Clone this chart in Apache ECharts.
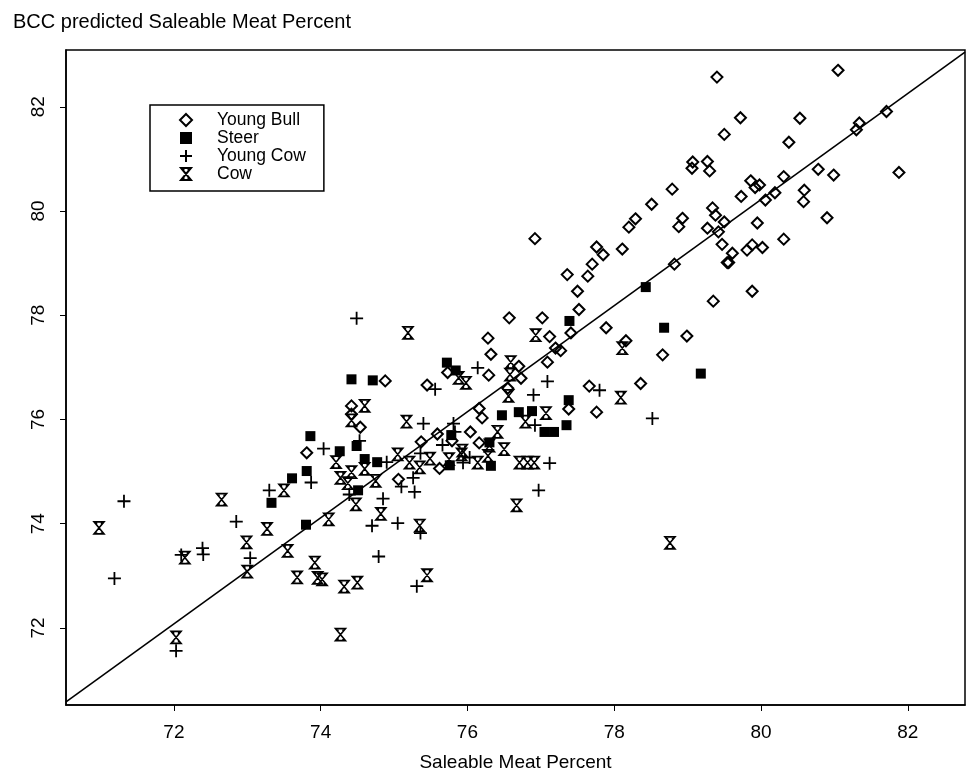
<!DOCTYPE html>
<html>
<head>
<meta charset="utf-8">
<script src="https://cdn.jsdelivr.net/npm/echarts@6/dist/echarts.min.js"></script>
<style>
  html, body { margin: 0; padding: 0; background: #fff; }
  #main { width: 971px; height: 772px; }
</style>
</head>
<body>
<div id="main"></div>
<script>
// values: [saleable meat %, BCC predicted %]
const youngBull = [
  [74.88, 76.74], [75.45, 76.66], [74.42, 76.26], [74.42, 76.10], [74.54, 75.85],
  [73.81, 75.36], [75.06, 74.85], [75.37, 75.57], [75.59, 75.72], [75.79, 75.59],
  [76.04, 75.76], [76.20, 76.03], [76.16, 75.55], [75.73, 76.90], [76.28, 77.56],
  [76.32, 77.25], [76.29, 76.85], [75.62, 75.06], [76.16, 76.21], [76.57, 77.95],
  [77.02, 77.95], [77.52, 78.11], [77.89, 77.76], [78.16, 77.51], [78.66, 77.24],
  [77.12, 77.59], [77.41, 77.66], [77.20, 77.37], [77.27, 77.32], [76.70, 77.02],
  [77.09, 77.10], [76.73, 76.79], [77.66, 76.64], [78.36, 76.69], [77.38, 76.20],
  [77.76, 76.14], [76.55, 76.60], [76.92, 79.47], [77.50, 78.46], [77.36, 78.78],
  [77.64, 78.75], [77.70, 78.98], [77.76, 79.31], [77.85, 79.16], [78.11, 79.27],
  [78.20, 79.69], [78.29, 79.85], [78.51, 80.13], [78.79, 80.42], [79.06, 80.82],
  [79.30, 80.77], [78.93, 79.86], [78.88, 79.70], [78.82, 78.98], [79.34, 80.06],
  [79.38, 79.92], [79.50, 79.79], [79.27, 79.67], [79.42, 79.60], [79.47, 79.36],
  [79.54, 79.01], [79.35, 78.27], [79.40, 82.57], [81.05, 82.70], [79.72, 81.79],
  [80.53, 81.78], [79.50, 81.47], [80.38, 81.32], [81.71, 81.91], [81.34, 81.69],
  [81.30, 81.56], [81.88, 80.74], [80.78, 80.80], [80.99, 80.69], [79.07, 80.94],
  [79.27, 80.95], [79.73, 80.28], [79.86, 80.58], [79.92, 80.45], [79.98, 80.50],
  [80.06, 80.21], [80.19, 80.35], [80.31, 80.66], [80.59, 80.40], [80.58, 80.18],
  [80.90, 79.87], [80.31, 79.46], [79.95, 79.77], [80.02, 79.30], [79.88, 79.35],
  [79.81, 79.25], [79.61, 79.19], [79.56, 79.01], [79.88, 78.46], [78.99, 77.60]
];
const steer = [
  [74.42, 76.77], [74.71, 76.75], [73.86, 75.68], [74.26, 75.39], [74.49, 75.49],
  [74.60, 75.24], [74.77, 75.18], [73.81, 75.01], [74.51, 74.64], [73.33, 74.40],
  [73.61, 74.87], [73.80, 73.98], [75.72, 77.09], [75.84, 76.94], [75.78, 75.70],
  [76.32, 75.11], [77.39, 77.89], [78.68, 77.76], [77.38, 76.37], [76.47, 76.08],
  [76.70, 76.14], [76.88, 76.16], [77.05, 75.76], [77.18, 75.76], [77.35, 75.89],
  [76.30, 75.56], [78.43, 78.54], [79.18, 76.88], [75.76, 75.12]
];
const youngCow = [
  [71.32, 74.43], [71.19, 72.95], [72.10, 73.40], [72.39, 73.53], [72.40, 73.41],
  [72.85, 74.04], [73.04, 73.34], [72.03, 71.56], [73.30, 74.64], [73.87, 74.79],
  [74.49, 77.94], [75.56, 76.58], [75.40, 75.92], [74.04, 75.44], [74.53, 75.59],
  [74.90, 75.18], [74.39, 74.56], [74.85, 74.48], [75.10, 74.71], [75.26, 74.88],
  [75.28, 74.61], [75.36, 75.35], [75.66, 75.51], [75.81, 75.92], [76.14, 76.99],
  [75.94, 75.17], [77.09, 76.73], [77.80, 76.56], [78.52, 76.02], [76.90, 76.47],
  [77.12, 75.16], [76.97, 74.64], [74.70, 73.96], [75.05, 74.01], [75.36, 73.82],
  [74.79, 73.37], [75.31, 72.80], [76.03, 75.27], [76.92, 75.89], [75.83, 75.76]
];
const cow = [
  [70.98, 73.92], [72.15, 73.35], [72.65, 74.46], [72.99, 73.64], [73.00, 73.08],
  [72.03, 71.82], [73.50, 74.64], [73.27, 73.90], [73.55, 73.48], [73.92, 73.25],
  [73.68, 72.97], [73.96, 72.96], [75.19, 77.66], [74.60, 76.26], [74.42, 75.98],
  [75.17, 75.96], [74.21, 75.18], [74.60, 75.05], [75.05, 75.33], [74.42, 74.99],
  [74.27, 74.88], [74.37, 74.78], [74.75, 74.82], [75.21, 75.17], [75.35, 75.08],
  [75.49, 75.25], [75.88, 76.80], [75.98, 76.70], [75.93, 75.40], [76.14, 75.17],
  [76.93, 77.62], [78.11, 77.37], [76.59, 77.10], [76.58, 76.86], [78.09, 76.42],
  [76.56, 76.45], [77.07, 76.12], [76.79, 75.96], [76.41, 75.76], [76.30, 75.50],
  [76.50, 75.43], [76.71, 75.17], [76.82, 75.17], [76.91, 75.17], [76.67, 74.35],
  [74.48, 74.37], [74.11, 74.08], [74.82, 74.19], [75.35, 73.96], [75.45, 73.01],
  [74.02, 72.93], [74.32, 72.79], [74.50, 72.87], [74.27, 71.87], [75.92, 75.33],
  [75.75, 75.24], [78.76, 73.63], [76.28, 75.30]
];
// line of equality as drawn on the figure
const refLine = [[70.53, 70.58], [82.78, 83.05]];
const xTicks = [72, 74, 76, 78, 80, 82];
const yTicks = [72, 74, 76, 78, 80, 82];

const ink = '#000';
const font = 'Liberation Sans';
const plusPath = 'path://M5,0 L5,10 M0,5 L10,5';
const cowPath = 'path://M0,0 L10,0 L0,12 L10,12 Z M2.5,1 L2.5,3 M7.5,1 L7.5,3 M2.5,9 L2.5,11 M7.5,9 L7.5,11';

const chart = echarts.init(document.getElementById('main'));

const option = {
  backgroundColor: '#fff',
  animation: false,
  title: {
    text: 'BCC predicted Saleable Meat Percent',
    left: 8,
    top: 7,
    textStyle: { fontFamily: font, fontSize: 20, fontWeight: 'normal', color: ink }
  },
  legend: {
    data: ['Young Bull', 'Steer', 'Young Cow', 'Cow'],
    orient: 'vertical',
    left: 150,
    top: 105,
    padding: [6, 18, 8, 29],
    itemGap: 0,
    itemWidth: 12,
    itemHeight: 12,
    borderColor: ink,
    borderWidth: 1.5,
    textStyle: { fontFamily: font, fontSize: 17.5, lineHeight: 17, color: ink, padding: [0, 0, 0, 20] }
  },
  grid: {
    left: 66, right: 6, top: 50, bottom: 67,
    outerBoundsMode: 'none',
    show: true, borderColor: ink, borderWidth: 1.5
  },
  xAxis: {
    type: 'value',
    min: 70.53,
    max: 82.78,
    name: 'Saleable Meat Percent',
    nameLocation: 'middle',
    nameGap: 48,
    nameTextStyle: { fontFamily: font, fontSize: 19, color: ink },
    axisLine: { lineStyle: { color: ink, width: 1.5 } },
    axisTick: { show: true, length: 6, lineStyle: { color: ink }, customValues: xTicks },
    axisLabel: { fontFamily: font, fontSize: 19, color: ink, margin: 18, customValues: xTicks },
    splitLine: { show: false }
  },
  yAxis: {
    type: 'value',
    min: 70.52,
    max: 83.09,
    axisLine: { show: true, lineStyle: { color: ink, width: 1.5 } },
    axisTick: { show: true, length: 6, lineStyle: { color: ink }, customValues: yTicks },
    axisLabel: { fontFamily: font, fontSize: 19, color: ink, rotate: 90, margin: 18, customValues: yTicks },
    splitLine: { show: false }
  },
  series: [
    {
      name: 'line',
      type: 'line',
      data: refLine,
      symbol: 'none',
      lineStyle: { color: ink, width: 1.6 },
      z: 1
    },
    {
      name: 'Young Bull',
      type: 'scatter',
      data: youngBull,
      symbol: 'diamond',
      symbolSize: 11,
      itemStyle: { color: 'rgba(255,255,255,0)', borderColor: ink, borderWidth: 2, opacity: 1 }
    },
    {
      name: 'Steer',
      type: 'scatter',
      data: steer,
      symbol: 'rect',
      symbolSize: 10,
      itemStyle: { color: ink, opacity: 1 }
    },
    {
      name: 'Young Cow',
      type: 'scatter',
      data: youngCow,
      symbol: plusPath,
      symbolSize: 13,
      itemStyle: { color: 'rgba(255,255,255,0)', borderColor: ink, borderWidth: 1.8, opacity: 1 }
    },
    {
      name: 'Cow',
      type: 'scatter',
      data: cow,
      symbol: cowPath,
      symbolSize: [10, 12],
      itemStyle: { color: 'rgba(255,255,255,0)', borderColor: ink, borderWidth: 1.6, opacity: 1 }
    }
  ]
};

chart.setOption(option);
</script>
</body>
</html>
